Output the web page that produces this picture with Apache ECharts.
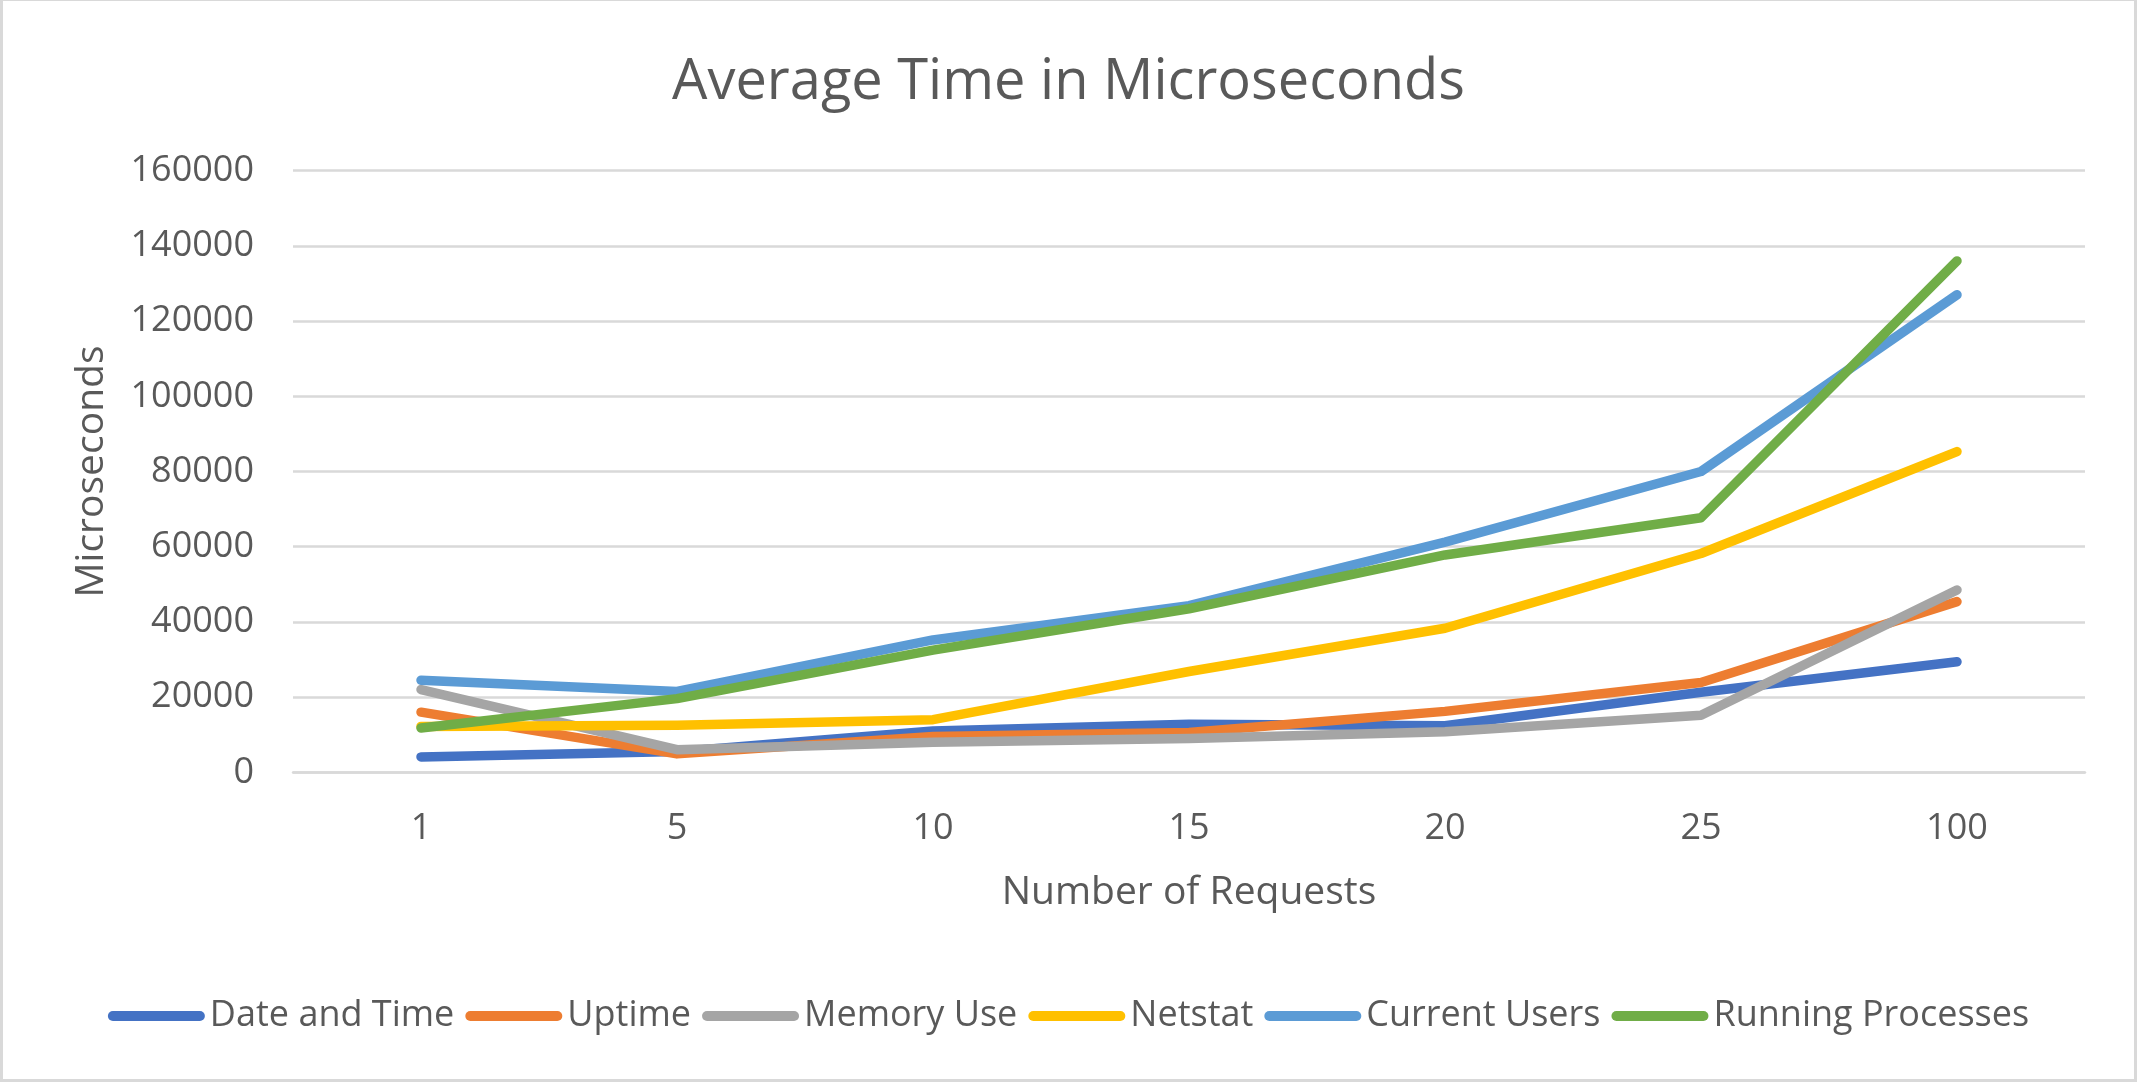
<!DOCTYPE html>
<html>
<head>
<meta charset="utf-8">
<script src="https://cdn.jsdelivr.net/npm/echarts@6/dist/echarts.min.js"></script>
<style>
html,body{margin:0;padding:0;background:#fff;}
#chart{width:2137px;height:1082px;}
</style>
</head>
<body>
<div id="chart"></div>
<script>
const categories = ['1', '5', '10', '15', '20', '25', '100'];
const dateAndTime = [4100, 5500, 11000, 12800, 12400, 21300, 29400];
const uptime = [16000, 4900, 9500, 10600, 16200, 23900, 45400];
const memoryUse = [22000, 6000, 8000, 9000, 10800, 15200, 48500];
const netstat = [12200, 12500, 14000, 26800, 38300, 58200, 85300];
const currentUsers = [24500, 21500, 35200, 44300, 61200, 80000, 127000];
const runningProcesses = [11800, 19600, 32500, 43500, 57800, 67700, 136000];
const yTicks = { min: 0, max: 160000, interval: 20000 };

const seriesDefs = [
  ['Date and Time', dateAndTime, '#4472C4'],
  ['Uptime', uptime, '#ED7D31'],
  ['Memory Use', memoryUse, '#A5A5A5'],
  ['Netstat', netstat, '#FFC000'],
  ['Current Users', currentUsers, '#5B9BD5'],
  ['Running Processes', runningProcesses, '#70AD47']
];

const FONT = '"Open Sans", "Noto Sans", sans-serif';
const TXT = '#595959';
const chart = echarts.init(document.getElementById('chart'), null, { renderer: 'canvas' });
chart.setOption({
  animation: false,
  backgroundColor: '#ffffff',
  textStyle: { fontFamily: FONT, color: TXT },
  title: {
    text: 'Average Time in Microseconds',
    left: 'center',
    top: 50,
    textStyle: { fontFamily: FONT, fontSize: 56, fontWeight: 'normal', color: TXT }
  },
  graphic: [{
    type: 'rect',
    shape: { x: 1.5, y: -0.5, width: 2134, height: 1081 },
    style: { fill: 'none', stroke: '#D9D9D9', lineWidth: 3 },
    silent: true
  }],
  legend: {
    top: 993,
    left: 'center',
    itemWidth: 97,
    itemHeight: 10,
    itemGap: 11,
    icon: 'path://M5,0 L92,0 A5,5 0 0 1 92,10 L5,10 A5,5 0 0 1 5,0 Z',
    textStyle: { fontFamily: FONT, fontSize: 36, color: TXT },
    data: seriesDefs.map(d => d[0])
  },
  grid: { left: 293, right: 52, top: 170.7, bottom: 309.7, containLabel: false },
  xAxis: {
    type: 'category',
    data: categories,
    boundaryGap: true,
    name: 'Number of Requests',
    nameLocation: 'middle',
    nameGap: 101,
    nameTextStyle: { fontFamily: FONT, fontSize: 39, color: TXT },
    axisLine: { show: true, lineStyle: { color: '#D9D9D9', width: 2.5 } },
    axisTick: { show: false },
    axisLabel: { fontFamily: FONT, fontSize: 36, color: TXT, margin: 38 }
  },
  yAxis: {
    type: 'value',
    min: yTicks.min,
    max: yTicks.max,
    interval: yTicks.interval,
    name: 'Microseconds',
    nameLocation: 'middle',
    nameRotate: 90,
    nameGap: 182,
    nameTextStyle: { fontFamily: FONT, fontSize: 39, color: TXT },
    axisLine: { show: false },
    axisTick: { show: false },
    axisLabel: { fontFamily: FONT, fontSize: 36, color: TXT, margin: 39, formatter: v => String(v) },
    splitLine: { show: true, lineStyle: { color: '#D9D9D9', width: 2.5 } }
  },
  series: seriesDefs.map(d => ({
    name: d[0],
    type: 'line',
    data: d[1],
    showSymbol: false,
    symbol: 'none',
    color: d[2],
    lineStyle: { color: d[2], width: 9.5, cap: 'round', join: 'round' },
    itemStyle: { color: d[2] }
  }))
});
</script>
</body>
</html>
